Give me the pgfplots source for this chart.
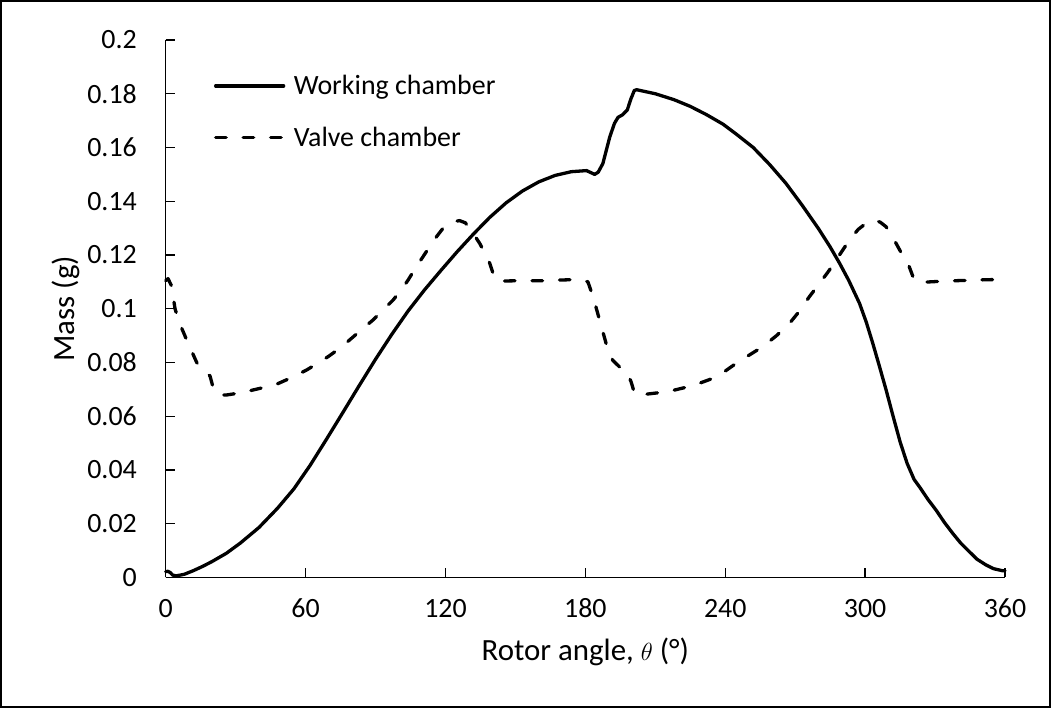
\documentclass[border=0pt]{standalone}
\usepackage{fontspec}
\setmainfont{Carlito}
\usepackage{pgfplots}
\pgfplotsset{compat=1.18}

\begin{document}
\begin{tikzpicture}
\useasboundingbox (0,0) rectangle (1051bp,708bp);
\draw[line width=1.5bp] (1bp,1bp) rectangle (1050bp,707bp);
\begin{axis}[
  at={(165.7bp,130.5bp)}, anchor=south west,
  scale only axis,
  width=839.3bp, height=537.5bp,
  xmin=0, xmax=360, ymin=0, ymax=0.2,
  axis x line*=bottom, axis y line*=left,
  axis line style={line width=1.3bp, -},
  tick align=inside,
  major tick length=9bp,
  tick style={line width=1.3bp, black},
  xtick={0,60,120,180,240,300,360},
  xticklabels={0,60,120,180,240,300,360},
  ytick={0,0.02,0.04,0.06,0.08,0.1,0.12,0.14,0.16,0.18,0.2},
  yticklabels={0,0.02,0.04,0.06,0.08,0.1,0.12,0.14,0.16,0.18,0.2},
  ticklabel style={font=\fontsize{28}{32}\selectfont},
  xticklabel style={anchor=base, inner sep=0pt, yshift=-39.8bp},
  yticklabel style={anchor=east, inner sep=0pt, xshift=-28.7bp},
  xlabel={Rotor angle, $\theta$ (°)},
  ylabel={Mass (g)},
  label style={font=\fontsize{31}{35}\selectfont},
  xlabel style={at={(axis description cs:0.5,-0.1553)}, anchor=base, inner sep=0pt},
  ylabel style={at={(axis description cs:-0.1085,0.5)}, anchor=base, inner sep=0pt},
  legend style={draw=none, fill=none, at={(axis description cs:0.0573,0.938)}, anchor=north west,
    font=\fontsize{28}{32}\selectfont, inner sep=0pt, row sep=26.5bp, column sep=6.6bp},
  legend cell align=left,
  legend image code/.code={\draw[#1] (0bp,0bp) -- (68bp,0bp);},
  clip=false,
]
% working chamber mass
\addplot[black, line width=3.3bp, line join=round, line cap=round] coordinates {
(0,0.0022) (1,0.0023) (2,0.0018) (3,0.0009) (4.5,0.0006) (8,0.0012) (12,0.0026)
(16,0.0042) (20,0.0060) (26,0.0090) (32,0.0128) (40,0.0186) (48,0.0258)
(55,0.0330) (62,0.0418) (69,0.0515) (76,0.0614) (83,0.0714) (90,0.0812)
(97,0.0905) (104,0.0992) (111,0.1070) (118,0.1142) (125,0.1212) (132,0.1278)
(139,0.1340) (146,0.1394) (153,0.1438) (160,0.1472) (167,0.1496) (174,0.1510)
(180.5,0.1514) (182.5,0.1506) (184,0.1500) (185.5,0.1508) (187.5,0.1540)
(189,0.1590) (190.5,0.1640) (192.5,0.1690) (194,0.1712) (196,0.1722)
(198,0.1740) (199.5,0.1780) (201,0.1812) (202,0.1815) (210,0.1800)
(218,0.1778) (225,0.1753) (232,0.1722) (239,0.1687) (245,0.1648)
(252,0.1600) (259,0.1537) (266,0.1467) (273,0.1385) (280,0.1298)
(285,0.1230) (289,0.1170) (293,0.1105) (297.6,0.1020) (300.5,0.0950)
(303.3,0.0871) (306,0.0790) (309,0.0698) (312,0.0600) (315,0.0505)
(318,0.0425) (321,0.0365) (323.5,0.0335) (327,0.0290) (330.5,0.0250)
(334,0.0205) (337.6,0.0164) (341,0.0128) (344.7,0.0096) (348,0.0068)
(351.8,0.0047) (355,0.0033) (359,0.0025) (360,0.0025)
};
\addlegendentry{Working chamber}
% valve chamber mass
\addplot[black, line width=3.3bp, line join=round, line cap=round, dash pattern=on 10.5bp off 17bp] coordinates {
(0,0.1105) (1,0.1112) (2.5,0.1085) (4,0.1000) (6,0.0945) (9,0.0884)
(13.3,0.0800) (17,0.0765) (19,0.0750) (20.4,0.0705) (22.6,0.0680)
(26,0.0679) (32,0.0687) (37.6,0.0698) (43,0.0709) (48.3,0.0722)
(54,0.0744) (60.4,0.0772) (65,0.0796) (69.7,0.0822) (75,0.0855)
(79.7,0.0890) (84,0.0922) (88.9,0.0958) (93,0.0993) (97.6,0.1033)
(101,0.1070) (104,0.1107) (107,0.1150) (110.4,0.1194) (115,0.1255)
(119,0.1300) (122.5,0.1322) (126,0.1328) (128.5,0.1320) (130.4,0.1299)
(132.5,0.1272) (134.7,0.1243) (137,0.1205) (139,0.1169) (141.1,0.1113)
(143.3,0.1103) (150,0.1104) (160.4,0.1104) (170,0.1107) (177.6,0.1109)
(181.1,0.1100) (183.3,0.1045) (186.1,0.0958) (188.9,0.0871) (191.7,0.0809)
(194.6,0.0784) (197.6,0.0766) (199.6,0.0729) (201.1,0.0685) (203.1,0.0679)
(211.9,0.0688) (218,0.0697) (223.3,0.0708) (229,0.0723) (234.7,0.0741)
(239,0.0762) (244.7,0.0797) (250,0.0826) (256.1,0.0859) (262,0.0900)
(267.6,0.0946) (272,0.0993) (276.1,0.1045) (280.5,0.1095) (284.7,0.1144)
(289,0.1200) (293.3,0.1256) (297,0.1295) (300.4,0.1318) (304,0.1330)
(306.5,0.1322) (309,0.1305) (311,0.1280) (313.3,0.1243) (316,0.1200)
(318.9,0.1157) (320.5,0.1120) (321.8,0.1104) (323.3,0.1098) (330,0.1101)
(337.6,0.1104) (345,0.1106) (352,0.1108) (359,0.1109) (360,0.1109)
};
\addlegendentry{Valve chamber}
\end{axis}
\end{tikzpicture}
\end{document}
